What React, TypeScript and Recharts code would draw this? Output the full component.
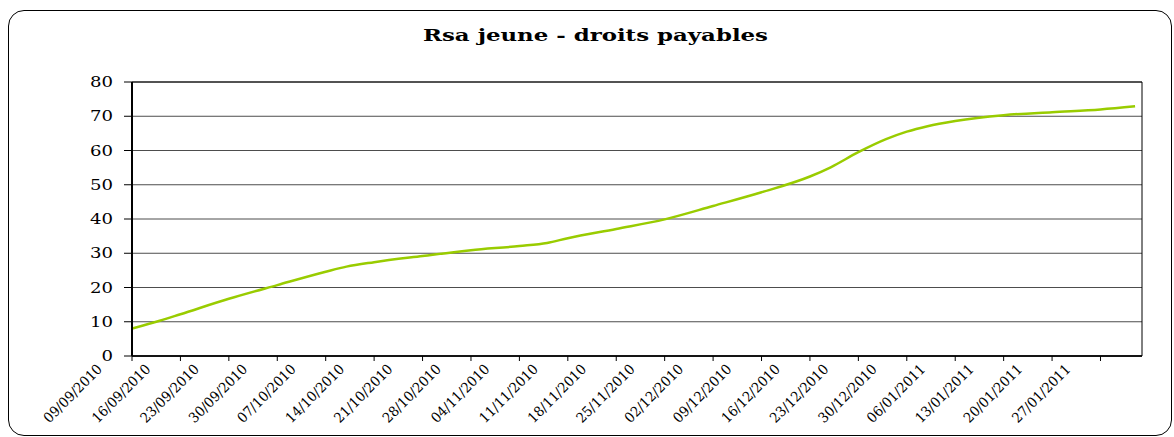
import { LineChart, Line, XAxis, YAxis, CartesianGrid, ReferenceArea } from "recharts";

const POINT_DATES = [
  "09/09/2010", "13/09/2010", "16/09/2010", "23/09/2010", "30/09/2010",
  "07/10/2010", "10/10/2010", "14/10/2010", "21/10/2010", "28/10/2010",
  "04/11/2010", "08/11/2010", "11/11/2010", "18/11/2010", "25/11/2010",
  "02/12/2010", "09/12/2010", "16/12/2010", "19/12/2010", "23/12/2010",
  "27/12/2010", "30/12/2010", "02/01/2011", "06/01/2011", "13/01/2011",
  "20/01/2011", "27/01/2011", "01/02/2011",
];
const POINT_VALUES = [
  8.0, 10.3, 12.2, 16.7, 20.7,
  24.6, 26.1, 27.4, 29.2, 30.9,
  32.1, 33.0, 34.4, 37.1, 39.9,
  43.8, 47.8, 52.4, 55.1, 59.5,
  63.3, 65.5, 67.1, 68.6, 70.3,
  71.2, 72.0, 72.9,
];

const TICK_LABELS = [
  "09/09/2010", "16/09/2010", "23/09/2010", "30/09/2010", "07/10/2010",
  "14/10/2010", "21/10/2010", "28/10/2010", "04/11/2010", "11/11/2010",
  "18/11/2010", "25/11/2010", "02/12/2010", "09/12/2010", "16/12/2010",
  "23/12/2010", "30/12/2010", "06/01/2011", "13/01/2011", "20/01/2011",
  "27/01/2011",
];
const Y_TICKS = [0, 10, 20, 30, 40, 50, 60, 70, 80];
const X_END = "02/02/2011";

const TITLE = "Rsa jeune - droits payables";
const LINE_COLOR = "#99CC00";
const FONT = "'DejaVu Serif', 'Liberation Serif', serif";

function dayOffset(s: string): number {
  const [d, m, y] = s.split("/").map(Number);
  return Math.round((Date.UTC(y, m - 1, d) - Date.UTC(2010, 8, 9)) / 86400000);
}

const data = POINT_DATES.map((d, i) => ({ day: dayOffset(d), value: POINT_VALUES[i] }));
const tickDays = TICK_LABELS.map(dayOffset);
const labelByDay = new Map(TICK_LABELS.map((l) => [dayOffset(l), l]));
const xMax = dayOffset(X_END);

function XTick(props: any) {
  const { x, y, payload } = props;
  const label = labelByDay.get(payload.value) ?? "";
  const tx = x - 29;
  const ty = y + 7;
  return (
    <text
      x={tx}
      y={ty}
      textAnchor="end"
      transform={`rotate(-45 ${tx} ${ty})`}
      fontFamily={FONT}
      fontSize={14}
      fill="#000"
      textLength={76}
      lengthAdjust="spacingAndGlyphs"
    >
      {label}
    </text>
  );
}

function YTick(props: any) {
  const { x, y, payload } = props;
  const s = String(payload.value);
  return (
    <text
      x={x}
      y={y + 5}
      textAnchor="end"
      fontFamily={FONT}
      fontSize={14}
      fill="#000"
      textLength={s.length * 11.5}
      lengthAdjust="spacingAndGlyphs"
    >
      {s}
    </text>
  );
}

export default function App() {
  return (
    <div style={{ position: "absolute", left: 0, top: 0, width: 1174, height: 437, background: "#fff" }}>
      <div
        style={{
          position: "absolute",
          left: 8,
          top: 10,
          width: 1164,
          height: 426,
          border: "1.5px solid #000",
          borderRadius: 16,
          boxSizing: "border-box",
        }}
      />
      <svg width={1174} height={60} style={{ position: "absolute", left: 0, top: 0 }}>
        <text
          x={595.5}
          y={41}
          textAnchor="middle"
          fontFamily={FONT}
          fontWeight="bold"
          fontSize={16}
          textLength={345}
          lengthAdjust="spacingAndGlyphs"
        >
          {TITLE}
        </text>
      </svg>
      <div style={{ position: "absolute", left: 0, top: 0 }}>
        <LineChart width={1174} height={437} data={data} margin={{ top: 82, right: 32, left: 72, bottom: 21 }}>
          <CartesianGrid vertical={false} stroke="#4d4d4d" strokeWidth={1} />
          <ReferenceArea x1={0} x2={xMax} y1={0} y2={80} fill="none" stroke="#000" strokeWidth={1} />
          <XAxis
            dataKey="day"
            type="number"
            domain={[0, xMax]}
            ticks={tickDays}
            interval={0}
            height={60}
            tickSize={5}
            tickMargin={2}
            tick={<XTick />}
            axisLine={{ stroke: "#000", strokeWidth: 1.5 }}
            tickLine={{ stroke: "#000" }}
            allowDataOverflow
          />
          <YAxis
            type="number"
            domain={[0, 80]}
            ticks={Y_TICKS}
            interval={0}
            width={60}
            tickSize={8}
            tickMargin={11}
            tick={<YTick />}
            axisLine={{ stroke: "#000", strokeWidth: 2 }}
            tickLine={{ stroke: "#000" }}
          />
          <Line
            type="monotone"
            dataKey="value"
            stroke={LINE_COLOR}
            strokeWidth={2.5}
            dot={false}
            isAnimationActive={false}
          />
        </LineChart>
      </div>
    </div>
  );
}
